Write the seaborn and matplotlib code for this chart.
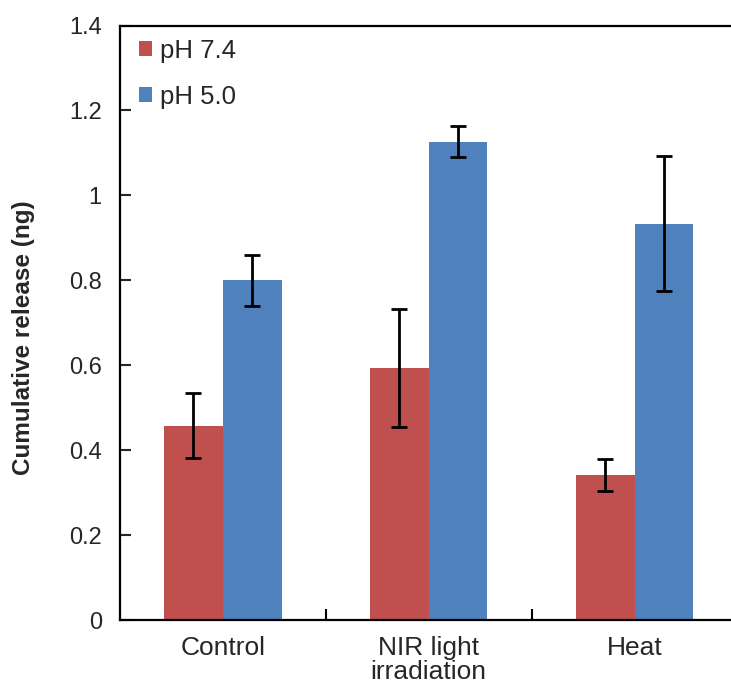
import numpy as np
import pandas as pd
import matplotlib
matplotlib.use("Agg")
import matplotlib.pyplot as plt
import seaborn as sns

categories = ["Control", "NIR light\nirradiation", "Heat"]
groups = ["pH 7.4", "pH 5.0"]
release_ph74 = [0.458, 0.594, 0.342]
release_ph50 = [0.800, 1.127, 0.934]
err_ph74 = [0.077, 0.138, 0.038]
err_ph50 = [0.059, 0.037, 0.160]

colors = ["#C0504D", "#4F81BD"]

df = pd.DataFrame({
    "condition": categories * 2,
    "group": [groups[0]] * 3 + [groups[1]] * 3,
    "release": release_ph74 + release_ph50,
})

sns.set_theme(style="white")
plt.rcParams["font.family"] = ["Liberation Sans", "DejaVu Sans"]

fig = plt.figure(figsize=(7.31, 6.9), dpi=100)
ax = fig.add_axes([0.164, 0.101, 0.845, 0.862])

sns.barplot(data=df, x="condition", y="release", hue="group", order=categories,
            hue_order=groups, palette=colors, width=0.57, errorbar=None,
            saturation=1, linewidth=0, ax=ax)

# error bars on top of each bar, using the bar patches' positions
bars = [p for p in ax.patches if p.get_height() > 0]
bars = sorted(bars, key=lambda p: p.get_x())
errs = []
for i in range(len(categories)):
    errs += [err_ph74[i], err_ph50[i]]
xs = [p.get_x() + p.get_width() / 2 for p in bars]
ys = [p.get_height() for p in bars]
ax.errorbar(xs, ys, yerr=errs, fmt="none", ecolor="black", elinewidth=2,
            capsize=6, capthick=2, zorder=5)

ax.set_xlim(-0.5, 2.5)
ax.set_ylim(0, 1.4)
ax.set_yticks(np.arange(0, 1.41, 0.2))
ax.set_yticklabels(["0", "0.2", "0.4", "0.6", "0.8", "1", "1.2", "1.4"])
ax.set_xticks([0, 1, 2])
ax.set_xticklabels(categories, linespacing=1.0)
ax.set_xticks([0.5, 1.5], minor=True)
ax.tick_params(axis="x", which="major", length=0, labelsize=19, pad=11)
ax.tick_params(axis="x", which="minor", direction="in", length=8, width=1.5,
               bottom=True, colors="black")
ax.tick_params(axis="y", direction="in", length=8, width=1.5, left=True,
               labelsize=17, pad=13)
for s in ax.spines.values():
    s.set_color("black")
    s.set_linewidth(1.6)

ax.set_xlabel("")
ax.set_ylabel("Cumulative release (ng)", fontsize=17.5, fontweight="bold")
ax.yaxis.set_label_coords(-0.137, 0.476)

leg = ax.legend(loc="upper left", frameon=False, fontsize=18.5, handlelength=0.5,
                handleheight=0.5, handletextpad=0.3, labelspacing=0.85,
                borderaxespad=0.0, bbox_to_anchor=(0.015, 0.995))

fig.savefig("out.png", dpi=100)
